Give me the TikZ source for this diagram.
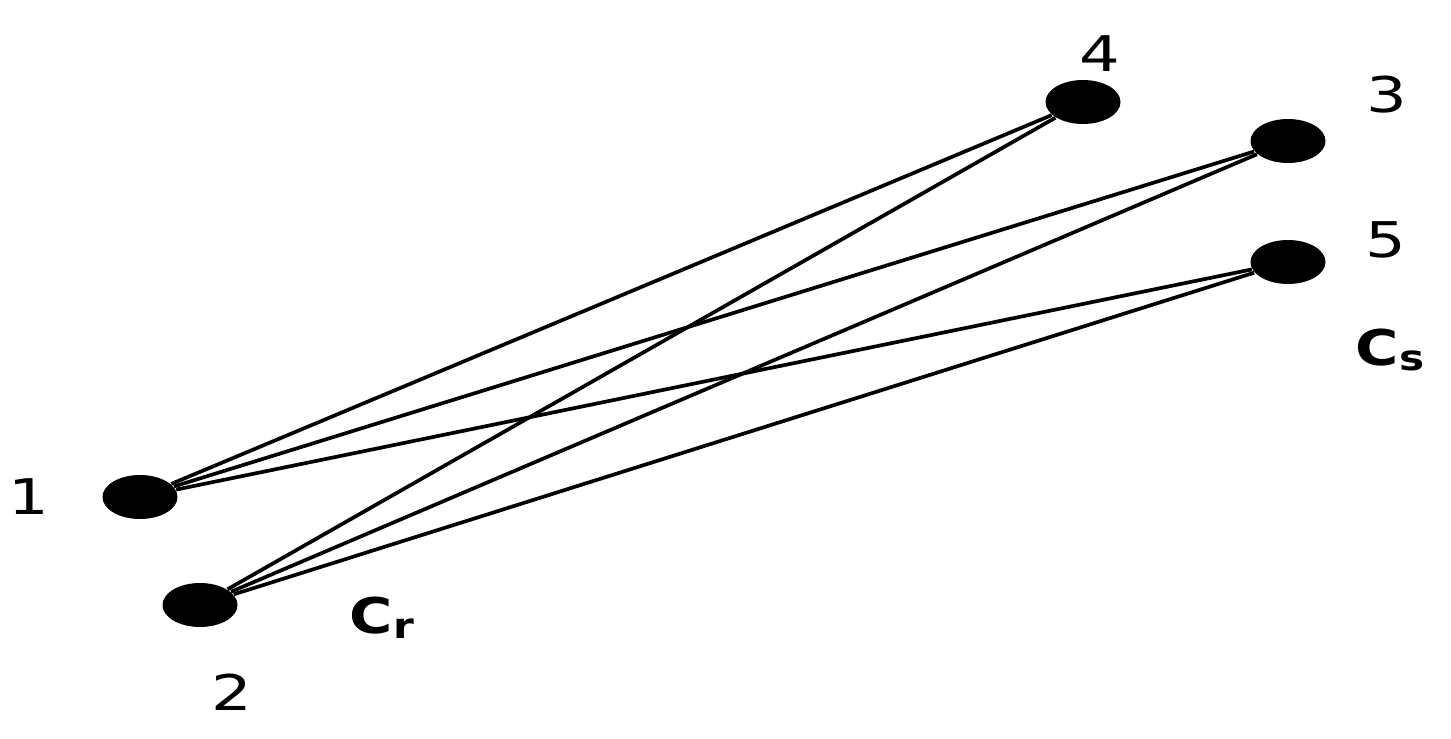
\documentclass[tikz,border=0pt]{standalone}
\usepackage{fontspec}
\setmainfont{DejaVu Sans}
\usetikzlibrary{shapes.geometric}
\begin{document}
\begin{tikzpicture}[
  vert/.style={ellipse, fill=black, minimum width=0.75cm, minimum height=0.44cm, inner sep=0pt},
  edge/.style={line width=1.05pt, black},
  lbl/.style={font=\fontsize{14}{16}\selectfont, xscale=1.3, inner sep=0pt},
  clbl/.style={font=\fontsize{14}{16}\selectfont\bfseries, xscale=1.2, inner sep=0pt}
]
\useasboundingbox (0,0) rectangle (14.51,7.38);
\node[vert] (n1) at (1.40,2.41) {};
\node[vert] (n2) at (2.00,1.33) {};
\node[vert] (n4) at (10.83,6.36) {};
\node[vert] (n3) at (12.88,5.97) {};
\node[vert] (n5) at (12.88,4.76) {};
\draw[edge] (n1) -- (n4);
\draw[edge] (n1) -- (n3);
\draw[edge] (n1) -- (n5);
\draw[edge] (n2) -- (n4);
\draw[edge] (n2) -- (n3);
\draw[edge] (n2) -- (n5);
\node[lbl] (l1) at (0.29,2.41) {1};
\node[lbl] (l2) at (2.32,0.46) {2};
\node[lbl] (l4) at (11.00,6.84) {4};
\node[lbl] (l3) at (13.87,6.43) {3};
\node[lbl] (l5) at (13.86,4.98) {5};
\node[clbl] (cr) at (3.82,1.20) {C\raisebox{-1.5pt}{\fontsize{10}{12}\selectfont r}};
\node[clbl] (cs) at (13.90,3.88) {C\raisebox{-1.5pt}{\fontsize{10}{12}\selectfont s}};
\end{tikzpicture}
\end{document}
